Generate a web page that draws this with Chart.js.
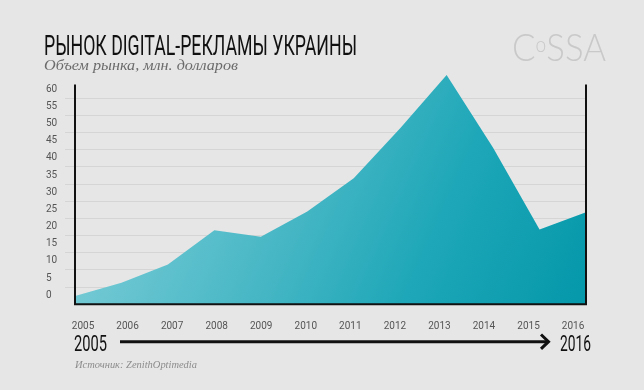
<!DOCTYPE html>
<html>
<head>
<meta charset="utf-8">
<script src="https://cdn.jsdelivr.net/npm/chart.js@4"></script>
<style>
  html, body { margin: 0; padding: 0; }
  body { width: 644px; height: 390px; background: #e6e6e6; position: relative; overflow: hidden; }
  #wrap { position: absolute; left: 0; top: 0; width: 644px; height: 390px; }
  .txt { position: absolute; white-space: nowrap; line-height: 1; transform-origin: 0 0; }
  #title { left: 44px; top: 30px; font: 400 27px Roboto, sans-serif; color: #111; }
  #sub { left: 44px; top: 57px; font: italic 15px "Liberation Serif", serif; color: #6b6b6b; }
  #logo { left: 512px; top: 23.6px; font: 300 37.5px Lato, sans-serif; color: #c9c9c9; }
  #logo span { font-size: 0.55em; position: relative; top: -0.42em; }
  .big { top: 331px; font: 400 22px Roboto, sans-serif; color: #111; }
  #from { left: 74px; }
  #to { left: 560px; }
  #src { left: 75px; top: 358px; font: italic 11px "Liberation Serif", serif; color: #8c8c8c; }
  #arrow { position: absolute; left: 0; top: 0; }
</style>
</head>
<body>
<div id="wrap"><canvas id="chart" width="644" height="390"></canvas></div>
<div class="txt" id="title">РЫНОК DIGITAL-РЕКЛАМЫ УКРАИНЫ</div>
<div class="txt" id="sub">Объем рынка, млн. долларов</div>
<div class="txt" id="logo">C<span>o</span>SSA</div>
<div class="txt big" id="from">2005</div>
<div class="txt big" id="to">2016</div>
<svg id="arrow" width="644" height="390">
  <line x1="120" y1="341.7" x2="547" y2="341.7" stroke="#111" stroke-width="3"/>
  <polyline points="541,334.5 548.5,341.7 541,348.9" fill="none" stroke="#111" stroke-width="3"/>
</svg>
<div class="txt" id="src">Источник: ZenithOptimedia</div>
<script>
// data
const years = [2005, 2006, 2007, 2008, 2009, 2010, 2011, 2012, 2013, 2014, 2015, 2016];
const adMarket = [2.4, 6.3, 11.6, 21.6, 19.7, 27.0, 36.7, 51.3, 66.8, 45.6, 21.8, 26.8];
const yTicks = [0, 5, 10, 15, 20, 25, 30, 35, 40, 45, 50, 55, 60];
const yMax = 67;
const frameTop = 64;

// squeeze text into the widths of the original
function fit(id, w) {
    var el = document.getElementById(id)
    var nat = el.getBoundingClientRect().width
    el.style.transform = 'scaleX(' + (w / nat) + ')'
}
fit('title', 313)
fit('sub', 194)
fit('logo', 94)
fit('from', 33)
fit('to', 31)
fit('src', 122)

const fillGradient = (context) => {
    const area = context.chart.chartArea
    if (!area) return '#3cb2c1'
    const g = context.chart.ctx.createLinearGradient(area.left, area.top, area.right, area.bottom)
    g.addColorStop(0, '#8ad3dc')
    g.addColorStop(0.45, '#48b7c5')
    g.addColorStop(0.7, '#1ea7b8')
    g.addColorStop(1, '#0498aa')
    return g
}

// black frame: left, bottom, right
const framePlugin = {
    id: 'frame',
    afterDraw(chart) {
        const ctx = chart.ctx
        const a = chart.chartArea
        const top = chart.scales.y.getPixelForValue(frameTop)
        ctx.save()
        ctx.strokeStyle = '#111'
        ctx.lineWidth = 2
        ctx.beginPath()
        ctx.moveTo(a.left, top)
        ctx.lineTo(a.left, a.bottom)
        ctx.lineTo(a.right, a.bottom)
        ctx.lineTo(a.right, top)
        ctx.stroke()
        ctx.restore()
    }
}

new Chart(document.getElementById('chart'), {
    type: 'line',
    data: {
        labels: years,
        datasets: [{
            data: adMarket,
            fill: 'origin',
            backgroundColor: fillGradient,
            borderWidth: 0,
            pointRadius: 0,
            tension: 0
        }]
    },
    options: {
        responsive: false,
        animation: false,
        devicePixelRatio: 1,
        layout: { padding: { left: 46, right: 58, top: 74.3, bottom: 55.7 } },
        plugins: { legend: { display: false }, tooltip: { enabled: false } },
        scales: {
            x: {
                type: 'category',
                offset: false,
                ticks: { display: false },
                grid: { display: false },
                border: { display: false },
                afterFit: (axis) => { axis.height = 0 }
            },
            x2: {
                type: 'linear',
                position: 'bottom',
                min: 2004.82,
                max: 2016.29,
                afterBuildTicks: (axis) => { axis.ticks = years.map(v => ({ value: v })) },
                ticks: {
                    color: '#555',
                    font: { family: 'Roboto', size: 10 },
                    padding: 8,
                    maxRotation: 0,
                    autoSkip: false,
                    callback: (v) => String(v)
                },
                grid: { display: false },
                border: { display: false },
                afterFit: (axis) => { axis.height = 30 }
            },
            y: {
                min: 0,
                max: yMax,
                z: 1,
                afterBuildTicks: (axis) => { axis.ticks = yTicks.map(v => ({ value: v })) },
                ticks: {
                    color: '#555',
                    font: { family: 'Roboto', size: 10 },
                    crossAlign: 'far',
                    labelOffset: -9,
                    padding: 4,
                    autoSkip: false
                },
                grid: {
                    color: (ctx) => (ctx.tick && ctx.tick.value === 0 ? 'transparent' : 'rgba(0,0,0,0.07)'),
                    tickLength: 10,
                    drawTicks: true
                },
                border: { display: false },
                afterFit: (axis) => { axis.width = 29 }
            }
        }
    },
    plugins: [framePlugin]
})
</script>
</body>
</html>
